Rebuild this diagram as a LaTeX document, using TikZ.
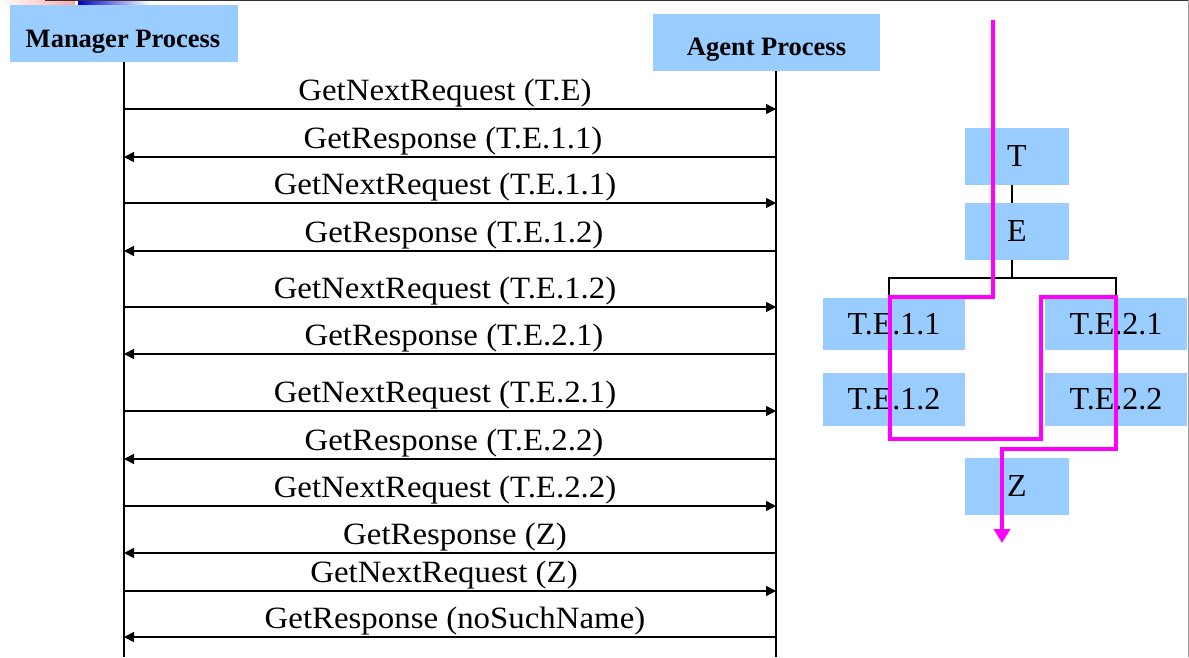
\documentclass[tikz,border=0pt]{standalone}
\usepackage{fontspec}
\setmainfont{Liberation Serif}
\newfontfamily\seqfont{Liberation Serif}[FakeStretch=1.06]
\usetikzlibrary{arrows.meta}
\definecolor{boxblue}{HTML}{99CCFF}
\definecolor{walkmag}{HTML}{FF00FF}
\begin{document}
\begin{tikzpicture}[x=1pt,y=-1pt,
  hdrbox/.style={fill=boxblue, draw=none, inner sep=0, minimum width=#1},
  hdrtext/.style={anchor=base, inner sep=0, font=\bfseries\fontsize{26.5}{26.5}\selectfont},
  treebox/.style={fill=boxblue, draw=none, inner sep=0, font=\fontsize{32}{32}\selectfont},
  lbl/.style={anchor=base, inner sep=0, font=\seqfont\fontsize{31}{31}\selectfont},
  life/.style={line width=1.6pt},
  msg/.style={line width=1.6pt, -{Triangle[length=10pt,width=10pt]}},
  treeline/.style={line width=1.5pt},
  walk/.style={walkmag, line width=4pt, line join=miter, -{Triangle[length=14pt,width=16pt]}}
]
\useasboundingbox (0,0) rectangle (1189,657);
% top border remnants
\shade[left color=white, right color=red!35] (0,0) rectangle (75,4);
\shade[left color=blue!80!black, right color=white] (78,0) rectangle (150,5);
\draw[black!80, line width=1pt] (45,0.5) -- (1189,0.5);
\draw[black!40, line width=1pt] (1188,0) -- (1188,657);

% headers
\node[hdrbox=228pt, minimum height=57pt] (mgr) at (124,33.5) {};
\node[hdrtext] (mgrt) at (123,47) {Manager Process};
\node[hdrbox=227pt, minimum height=57pt] (agt) at (766.5,42.5) {};
\node[hdrtext] (agtt) at (766.5,55.5) {Agent Process};

% lifelines
\coordinate (mend) at (124,657);
\coordinate (aend) at (776,657);
\coordinate (atop) at (776,71);
\draw[life] (mgr.south) -- (mend);
\draw[life] (atop) -- (aend);

% messages
\foreach \i/\y/\d/\cx/\t in {
  1/109/r/445/{GetNextRequest (T.E)},
  2/157/l/453/{GetResponse (T.E.1.1)},
  3/203/r/445/{GetNextRequest (T.E.1.1)},
  4/251/l/454/{GetResponse (T.E.1.2)},
  5/307/r/445/{GetNextRequest (T.E.1.2)},
  6/354/l/454/{GetResponse (T.E.2.1)},
  7/411/r/445/{GetNextRequest (T.E.2.1)},
  8/459/l/454/{GetResponse (T.E.2.2)},
  9/506/r/445/{GetNextRequest (T.E.2.2)},
  10/553/l/455/{GetResponse (Z)},
  11/591/r/444/{GetNextRequest (Z)},
  12/637/l/455/{GetResponse (noSuchName)}}{
  \coordinate (m\i) at (124,\y);
  \coordinate (a\i) at (776,\y);
  \node[lbl] (l\i) at (\cx,\y-9) {\t};
  \if\d r
    \draw[msg] (m\i) -- (a\i);
  \else
    \draw[msg] (a\i) -- (m\i);
  \fi
}

% tree
\node[treebox, minimum width=104pt, minimum height=57pt] (T) at (1017,156.5) {T};
\node[treebox, minimum width=104pt, minimum height=57pt] (E) at (1017,231.5) {E};
\node[treebox, minimum width=142pt, minimum height=52pt] (t11) at (894,324) {T.E.1.1};
\node[treebox, minimum width=142pt, minimum height=53pt] (t12) at (894,399.5) {T.E.1.2};
\node[treebox, minimum width=142pt, minimum height=52pt] (t21) at (1116,324) {T.E.2.1};
\node[treebox, minimum width=142pt, minimum height=53pt] (t22) at (1116,399.5) {T.E.2.2};
\node[treebox, minimum width=104pt, minimum height=57pt] (Z) at (1017,486.5) {Z};

\coordinate (tb) at (1012,185);
\coordinate (et) at (1012,203);
\coordinate (eb) at (1012,260);
\coordinate (br) at (1012,278);
\coordinate (bl) at (889,278);
\coordinate (brr) at (1116,278);
\draw[treeline] (tb) -- (et);
\draw[treeline] (eb) -- (br);
\draw[treeline] (bl |- t11.north) -- (bl) -- (brr) -- (brr |- t21.north);

% walk path
\coordinate (w0) at (993,20);
\coordinate (w9) at (1002,543);
\draw[walk] (w0) -- (993,297) -- (889.5,297) -- (889.5,439) -- (1040.5,439)
  -- (1040.5,297) -- (1115.5,297) -- (1115.5,449) -- (1002,449) -- (w9);
\end{tikzpicture}
\end{document}
